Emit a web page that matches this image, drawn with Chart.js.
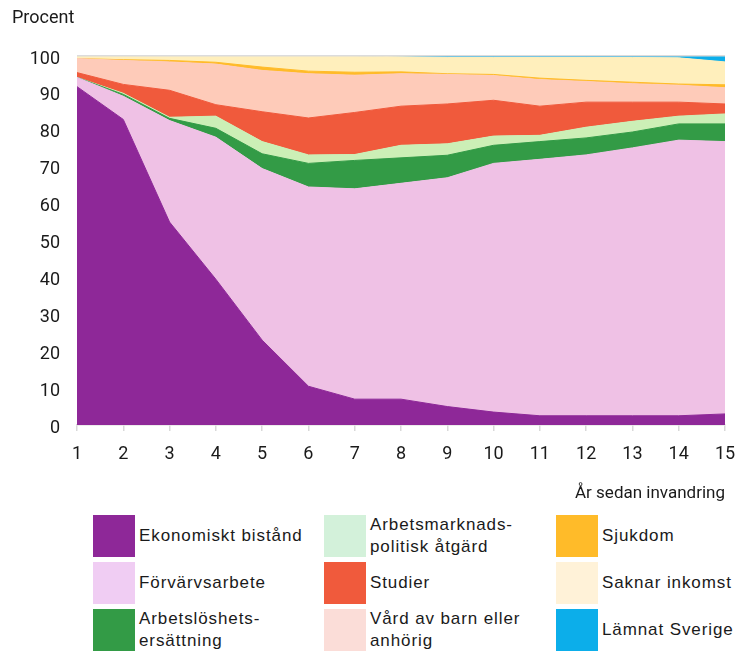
<!DOCTYPE html>
<html>
<head>
<meta charset="utf-8">
<script src="https://cdn.jsdelivr.net/npm/chart.js@4"></script>
<style>
  body { margin: 0; background: #fff; }
  #wrap { position: relative; width: 739px; height: 656px; }
  #chart { position: absolute; left: 0; top: 0; }
  #ytitle { position: absolute; left: 12px; top: 6px; font: 18px Roboto, sans-serif; color: #1a1a1a; }
  .item { position: absolute; height: 42px; }
  .box { position: absolute; left: 0; top: 0; width: 42px; height: 42px; }
  .lbl { position: absolute; left: 46px; top: 0; height: 42px; display: flex; align-items: center;
         font: 17px "Liberation Sans", Arial, sans-serif; letter-spacing: 0.9px; line-height: 22px;
         color: #1a1a1a; white-space: nowrap; }
</style>
</head>
<body>
<div id="wrap">
  <canvas id="chart" width="739" height="510"></canvas>
  <div id="ytitle">Procent</div>
  <div id="legend"></div>
</div>
<script>
// År sedan invandring
const years = ["1", "2", "3", "4", "5", "6", "7", "8", "9", "10", "11", "12", "13", "14", "15"];

// andel i procent per år
const ekonomisktBistand = [91.7, 82.8, 55.0, 39.5, 23.0, 10.5, 7.0, 7.0, 5.0, 3.5, 2.5, 2.5, 2.5, 2.5, 3.0];
const forvarvsarbete    = [2.5, 6.3, 27.5, 38.5, 46.5, 54.0, 57.0, 58.5, 62.0, 67.4, 69.5, 70.7, 72.6, 74.7, 73.8];
const arbetsloshet      = [0.0, 0.5, 0.6, 2.4, 4.0, 6.4, 7.7, 6.9, 6.1, 4.9, 4.8, 4.6, 4.3, 4.4, 4.8];
const arbetsmarknad     = [0.0, 0.3, 0.3, 3.3, 3.3, 2.3, 1.6, 3.4, 3.1, 2.5, 1.7, 2.9, 2.9, 2.1, 2.7];
const studier           = [1.3, 2.4, 7.3, 3.1, 8.1, 10.0, 11.4, 10.6, 10.8, 9.7, 7.9, 6.8, 5.2, 3.8, 2.7];
const vardAvBarn        = [3.8, 6.5, 7.7, 11.0, 11.2, 12.0, 10.1, 8.8, 8.0, 6.7, 7.2, 5.6, 5.0, 4.6, 4.4];
const sjukdom           = [0.0, 0.2, 0.4, 0.5, 0.9, 0.7, 0.8, 0.5, 0.2, 0.3, 0.4, 0.3, 0.4, 0.3, 0.8];
const saknarInkomst     = [0.7, 1.0, 1.2, 1.7, 3.0, 4.1, 4.4, 4.1, 4.4, 4.6, 5.6, 6.2, 6.7, 7.1, 6.2];
const lamnatSverige     = [0.0, 0.0, 0.0, 0.0, 0.0, 0.0, 0.0, 0.2, 0.4, 0.4, 0.4, 0.4, 0.4, 0.5, 1.6];

const yTicks = [0, 10, 20, 30, 40, 50, 60, 70, 80, 90, 100];

const series = [
    { name: "Ekonomiskt bistånd", data: ekonomisktBistand },
    { name: "Förvärvsarbete", data: forvarvsarbete },
    { name: "Arbetslöshets-\nersättning", data: arbetsloshet },
    { name: "Arbetsmarknads-\npolitisk åtgärd", data: arbetsmarknad },
    { name: "Studier", data: studier },
    { name: "Vård av barn eller\nanhörig", data: vardAvBarn },
    { name: "Sjukdom", data: sjukdom },
    { name: "Saknar inkomst", data: saknarInkomst },
    { name: "Lämnat Sverige", data: lamnatSverige },
];

// fill colour in the chart, and the (slightly different) swatch colour in the legend
const areaColors = ["rgb(142,40,152)", "rgb(239,193,229)", "rgb(51,155,70)", "rgb(204,239,182)", "rgb(240,90,60)",
                    "rgb(254,203,185)", "rgb(255,187,41)", "rgb(255,239,188)", "rgb(12,174,234)"];
const swatchColors = ["rgb(142,40,152)", "rgb(240,205,243)", "rgb(51,155,70)", "rgb(211,241,218)", "rgb(240,90,60)",
                      "rgb(251,221,216)", "rgb(255,187,41)", "rgb(255,242,216)", "rgb(12,174,234)"];

const datasets = series.map((s, i) => ({
    label: s.name,
    data: s.data,
    backgroundColor: areaColors[i],
    borderColor: areaColors[i],
    borderWidth: 1,
    pointRadius: 0,
    tension: 0,
    fill: i === 0 ? "origin" : "-1",
}));

const ctx = document.getElementById("chart").getContext("2d");

new Chart(ctx, {
    type: "line",
    data: { labels: years, datasets: datasets },
    options: {
        responsive: false,
        animation: false,
        layout: { padding: { top: 56, right: 14, left: 0, bottom: 0 } },
        plugins: {
            legend: { display: false },
            title: { display: false },
            tooltip: { enabled: false },
        },
        scales: {
            x: {
                grid: {
                    drawOnChartArea: false,
                    drawTicks: true,
                    tickLength: 6,
                    color: "#d9d9d9",
                    lineWidth: 1.5,
                },
                border: { display: true, color: "#d9d9d9", width: 1.5 },
                ticks: {
                    color: "#1a1a1a",
                    font: { family: "Roboto", size: 18 },
                    padding: 13,
                    maxRotation: 0,
                    autoSkip: false,
                },
                title: {
                    display: true,
                    text: "År sedan invandring",
                    align: "end",
                    color: "#1a1a1a",
                    font: { family: "Roboto", size: 17 },
                    padding: { top: 0, bottom: 6 },
                },
                // fixed axis height, and no extra room for the last label beyond the layout padding
                afterFit: (scale) => {
                    scale.height = 85;
                    scale.paddingLeft = 0;
                    scale.paddingRight = 0;
                },
            },
            y: {
                stacked: true,
                min: 0,
                max: 100,
                afterBuildTicks: (scale) => { scale.ticks = yTicks.map(v => ({ value: v })); },
                grid: {
                    drawTicks: false,
                    z: 1,
                    lineWidth: 1.5,
                    color: (c) => (c.tick && c.tick.value === 100 ? "#dcdcdc" : "rgba(0,0,0,0)"),
                },
                border: { display: false },
                ticks: {
                    color: "#1a1a1a",
                    font: { family: "Roboto", size: 18 },
                    padding: 17,
                    labelOffset: 3,
                },
                afterFit: (scale) => { scale.width = 77; },
            },
        },
    },
});

// legend: three columns, filled column by column
const legend = document.getElementById("legend");
const colX = [93, 324, 556];
const rowY = [515, 562, 609];
series.forEach((s, i) => {
    const item = document.createElement("div");
    item.className = "item";
    item.style.left = colX[Math.floor(i / 3)] + "px";
    item.style.top = rowY[i % 3] + "px";
    const box = document.createElement("div");
    box.className = "box";
    box.style.background = swatchColors[i];
    const lbl = document.createElement("div");
    lbl.className = "lbl";
    lbl.innerHTML = s.name.split("\n").join("<br>");
    item.appendChild(box);
    item.appendChild(lbl);
    legend.appendChild(item);
});
</script>
</body>
</html>
